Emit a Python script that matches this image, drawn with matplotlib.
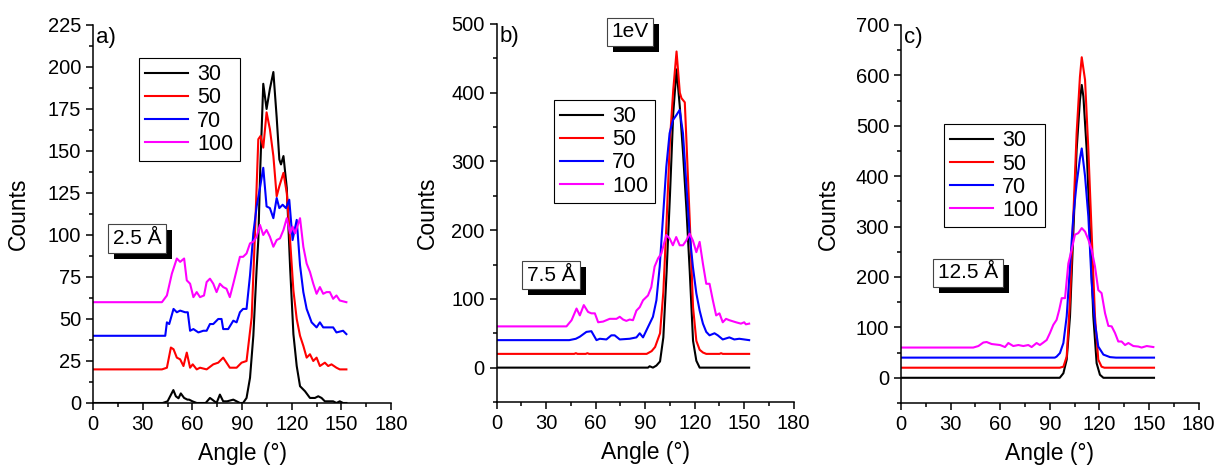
import matplotlib
matplotlib.use("Agg")
import matplotlib.pyplot as plt
from matplotlib.ticker import MultipleLocator
from matplotlib.patches import Rectangle
from matplotlib.transforms import IdentityTransform

plt.rcParams['font.family'] = ['Liberation Sans', 'DejaVu Sans']

labels = ['30', '50', '70', '100']
colors = ['black', 'red', 'blue', 'magenta']

# panel a) 2.5 A
a_ang_30 = [0, 42, 45, 48.5, 50, 51.6, 53, 55, 57, 58, 60, 62.6, 68, 70.6, 72, 74.6, 76.6, 78.6, 81, 84.7,
            86.7, 88.7, 90.6, 92.7, 94.8, 96.8, 98.8, 99.8, 101, 102.8, 104.8, 106.8, 108.9, 110.9, 112.5,
            113.5, 115, 117, 119, 121, 123, 125, 128, 131, 134, 136, 138, 140, 145, 147, 149, 151, 153]
a_cnt_30 = [0, 0, 1, 7.7, 4, 2.8, 5.7, 3, 2, 2, 1, 0, 0, 3, 2, 0, 5, 1, 1, 2,
            1, 0, 0, 3, 15, 40, 80, 97, 140, 190, 175, 187, 197, 170, 145,
            142, 147, 128, 81, 41, 22, 10, 7, 3, 3, 4, 3, 1, 1, 0, 1, 0, 0]
a_ang_50 = [0, 41.6, 44.6, 47, 48.6, 50.6, 52.6, 54.6, 56.6, 58.6, 60.2, 62.6, 64.6, 68.6, 72.6, 75.6, 78.6,
            82.6, 86.7, 89.7, 92.7, 95.8, 97.8, 99.8, 101.2, 102.8, 104.8, 106.8, 108.9, 110.9, 112.5, 115,
            117, 119, 121, 123, 125, 127, 129, 131, 133, 135, 137, 140, 142, 144, 147, 149, 153]
a_cnt_50 = [20, 20, 21, 33, 32, 27, 26, 22, 30, 21, 23, 20, 21, 20, 23, 24, 27,
            21, 21, 24, 25, 51, 101, 157, 159, 152, 173, 163, 147, 123, 129, 137,
            125, 97, 67, 50, 40, 34, 27, 29, 25, 27, 22, 24, 22, 23, 21, 20, 20]
a_ang_70 = [0, 43.6, 44.6, 46, 48.6, 50.6, 52.6, 55.6, 57.2, 58.6, 60.6, 63.6, 66.6, 68.6, 70.6, 72.6, 75.6,
            77.6, 78.6, 81.6, 84.7, 86.7, 88.7, 90.6, 92.7, 94.8, 96.8, 98.8, 100.8, 102.8, 104.8, 106.8,
            108.9, 110.9, 112.5, 114.5, 116.5, 118.5, 120.5, 123, 125, 127, 129, 132, 135, 137, 139, 145,
            147, 151, 153]
a_cnt_70 = [40, 40, 48, 47, 56, 54, 55, 54, 54, 43, 44, 42, 43, 43, 47, 47, 50,
            50, 44, 44, 49, 48, 54, 56, 56, 76, 101, 117, 128, 140, 117, 116,
            110, 122, 116, 118, 116, 121, 97, 109, 82, 66, 56, 48, 45, 48, 45, 45,
            42, 43, 41]
a_ang_100 = [0, 41.6, 44.6, 47.6, 50.6, 52.6, 55, 56.6, 58.6, 60.6, 62.6, 64.6, 67, 68.6, 70.6, 72.6, 74.6,
             76.6, 78.6, 80.6, 82.6, 84.7, 86.7, 88.7, 90.6, 92.7, 94.8, 96.8, 98.8, 100.8, 102.8, 104.8,
             106.8, 108.9, 110.9, 112.9, 115, 117, 119, 120.5, 122, 125, 127, 129, 131, 133, 135, 137, 139,
             141, 143, 145, 147, 149, 153]
a_cnt_100 = [60, 60, 64, 77, 86, 84, 86, 73, 71, 63, 66, 63, 64, 72, 74, 71, 66,
             71, 69, 68, 63, 71, 79, 87, 87, 89, 95, 96, 99, 106, 100, 103,
             99, 93, 97, 98, 103, 110, 101, 105, 101, 110, 93, 83, 78, 71, 65, 69, 65,
             66, 66, 62, 64, 61, 60]

# panel b) 7.5 A
b_ang_30 = [0, 91.7, 92.7, 94.7, 96.8, 99, 101, 103, 105, 107, 109, 111, 113, 115, 117, 119, 121, 123, 153]
b_cnt_30 = [0, 0, 2, 0, 3, 9, 44, 140, 250, 370, 434, 379, 310, 230, 140, 39, 10, 0, 0]
b_ang_50 = [0, 47, 48, 49, 54, 55, 56, 90.9, 93.9, 96, 99, 101, 103, 105, 107, 109, 111, 112, 114, 115,
            117, 119, 121, 123, 125, 127, 135, 136, 137, 153]
b_cnt_50 = [20, 20, 21, 20, 20, 21, 20, 20, 24, 30, 50, 110, 215, 331, 404, 460, 400, 392, 386, 330,
            214, 88, 39, 26, 22, 20, 20, 21, 20, 20]
b_ang_70 = [0, 44, 48, 50.4, 54.4, 57.4, 60.5, 62.5, 66.5, 69.5, 71.5, 74.6, 80.6, 84.7, 86.7, 88.7, 90.7,
            92.7, 94.7, 96.8, 98.8, 100.8, 102.8, 104.8, 106.8, 108.8, 110.9, 112.9, 114.9, 116.9, 118.9,
            121, 123, 125, 127, 129, 132, 134, 137, 141, 144, 147, 153]
b_cnt_70 = [40, 40, 42, 45, 52, 53, 40, 42, 41, 47, 47, 41, 42, 44, 50, 44, 54,
            64, 74, 98, 147, 219, 292, 341, 360, 367, 375, 341, 268, 195, 147,
            108, 83, 64, 52, 47, 50, 47, 41, 44, 41, 42, 40]
b_ang_100 = [0, 42.3, 45.4, 48.4, 50.4, 52.8, 55.4, 57.4, 59.5, 61.5, 64.5, 68.5, 72.6, 74.6, 76.6, 78.6,
             80.6, 82.6, 84.7, 86.7, 88.7, 91.7, 93.7, 95.7, 97.8, 99.8, 102.8, 104.8, 106.8, 108.8, 110.9,
             112.9, 114.9, 116.9, 118.9, 121, 123, 125, 127, 129, 131, 133, 135, 137, 139, 141, 145, 148,
             150, 151, 153]
b_cnt_100 = [60, 60, 69, 86, 76, 91, 81, 79, 79, 66, 67, 71, 71, 74, 70, 68,
             70, 69, 83, 88, 98, 105, 117, 147, 159, 166, 193, 188, 178, 190, 178,
             178, 185, 195, 185, 168, 183, 151, 122, 122, 98, 76, 79, 66, 71, 69, 66, 64,
             66, 63, 64]

# panel c) 12.5 A
c_ang_30 = [0, 96, 98.2, 100.2, 102.2, 104.2, 106.2, 108.2, 109.3, 110.3, 112.3, 114.3, 116.3, 118.3, 120.3,
            122.4, 153]
c_cnt_30 = [0, 0, 9, 36, 122, 287, 452, 551, 581, 558, 452, 287, 122, 29, 6, 0, 0]
c_ang_50 = [0, 96, 98.2, 100.2, 102.2, 104.2, 106.2, 108.2, 109.3, 111.3, 113.3, 115.3, 117.3, 119.3, 121.3,
            123, 153]
c_cnt_50 = [20, 20, 22, 42, 155, 320, 485, 597, 636, 591, 452, 287, 122, 36, 22, 20, 20]
c_ang_70 = [0, 93, 94.1, 96.1, 98.2, 100.2, 102.2, 104.2, 106.2, 108.2, 109.3, 111.3, 113.3, 115.3, 117.3,
            119.3, 122.4, 126.4, 130, 153]
c_cnt_70 = [40, 40, 42, 49, 69, 122, 221, 320, 385, 435, 455, 400, 320, 188, 108, 62, 46, 41, 40, 40]
c_ang_100 = [0, 43.7, 46.8, 49.8, 51.8, 54.8, 59.9, 62.9, 64.9, 67.9, 71, 74, 77, 79, 82, 84, 86.1, 88.1,
             90.1, 92.1, 94.1, 95.7, 97.2, 99.2, 101.2, 103.2, 105.2, 107.2, 109.3, 111.3, 113.3, 115.3,
             117.3, 119.3, 121.3, 123.4, 125.4, 127.4, 129.4, 131.4, 133.4, 135.5, 137.5, 140.5, 143.5,
             145.5, 148.6, 150.6, 152.6]
c_cnt_100 = [60, 60, 63, 70, 71, 67, 65, 61, 69, 63, 65, 63, 65, 61, 69, 65, 70, 75,
             89, 105, 115, 135, 158, 158, 227, 254, 284, 287, 297, 290, 274, 254,
             221, 174, 168, 128, 103, 102, 89, 72, 72, 65, 69, 63, 62, 60, 63, 62, 61]

fig = plt.figure(figsize=(12.26, 4.75), dpi=100)

panels = [
    dict(rect=[0.0759, 0.1516, 0.2431, 0.7958], tag='a)', ylim=(0, 225), major=25, minor=12.5,
         data=[(a_ang_30, a_cnt_30), (a_ang_50, a_cnt_50), (a_ang_70, a_cnt_70), (a_ang_100, a_cnt_100)],
         leg=(0.154, 0.913), box=('2.5 Å', 0.148, 0.435), ylab_x=-0.211),
    dict(rect=[0.4051, 0.1537, 0.2423, 0.7958], tag='b)', ylim=(-50, 500), major=100, minor=50,
         data=[(b_ang_30, b_cnt_30), (b_ang_50, b_cnt_50), (b_ang_70, b_cnt_70), (b_ang_100, b_cnt_100)],
         leg=(0.193, 0.80), box=('7.5 Å', 0.183, 0.335), ylab_x=-0.194),
    dict(rect=[0.7349, 0.1516, 0.2428, 0.7958], tag='c)', ylim=(-50, 700), major=100, minor=50,
         data=[(c_ang_30, c_cnt_30), (c_ang_50, c_cnt_50), (c_ang_70, c_cnt_70), (c_ang_100, c_cnt_100)],
         leg=(0.144, 0.738), box=('12.5 Å', 0.225, 0.344), ylab_x=-0.205),
]

boxed = []  # (axes, text) pairs that get a drop shadow


def label_box(ax, x, y, s):
    t = ax.text(x, y, s, transform=ax.transAxes, ha='center', va='center', fontsize=15, color='black',
                zorder=6, bbox=dict(boxstyle='square,pad=0.22', fc='white', ec='#444444', lw=0.8))
    boxed.append((ax, t))


for p in panels:
    ax = fig.add_axes(p['rect'])
    for (ang, cnt), lab, col in zip(p['data'], labels, colors):
        ax.plot(ang, cnt, color=col, lw=1.5, label=lab)
    ax.set_xlim(0, 180)
    ax.set_ylim(*p['ylim'])
    ax.xaxis.set_major_locator(MultipleLocator(30))
    ax.xaxis.set_minor_locator(MultipleLocator(15))
    ax.yaxis.set_major_locator(MultipleLocator(p['major']))
    ax.yaxis.set_minor_locator(MultipleLocator(p['minor']))
    ax.spines['top'].set_visible(False)
    ax.spines['right'].set_visible(False)
    for sp in ('left', 'bottom'):
        ax.spines[sp].set_linewidth(1.1)
    ax.tick_params(which='major', direction='out', length=5, width=1.1, labelsize=14.5)
    ax.tick_params(which='minor', direction='out', length=3, width=1.1)
    ax.set_xlabel('Angle (°)', fontsize=16.5, labelpad=6)
    ax.set_ylabel('Counts', fontsize=16.5)
    ax.yaxis.set_label_coords(p['ylab_x'], 0.5)
    ax.text(0.01, 0.995, p['tag'], transform=ax.transAxes, ha='left', va='top', fontsize=16)
    leg = ax.legend(loc='upper left', bbox_to_anchor=p['leg'], borderaxespad=0, fancybox=False,
                    edgecolor='black', framealpha=1, fontsize=15.5, handlelength=2.0,
                    handletextpad=0.4, labelspacing=0.1, borderpad=0.3)
    leg.get_frame().set_linewidth(0.8)
    label_box(ax, p['box'][1], p['box'][2], p['box'][0])
    if p['tag'] == 'b)':
        label_box(ax, 0.45, 0.979, '1eV')

# black drop shadow behind each label box, offset 6 px right and down
fig.canvas.draw()
for ax, t in boxed:
    bb = t.get_bbox_patch().get_window_extent()
    ax.add_patch(Rectangle((bb.x0 + 6, bb.y0 - 6), bb.width, bb.height, transform=IdentityTransform(),
                           fc='black', ec='none', zorder=5.5, clip_on=False))

fig.savefig('out.png', dpi=100)
